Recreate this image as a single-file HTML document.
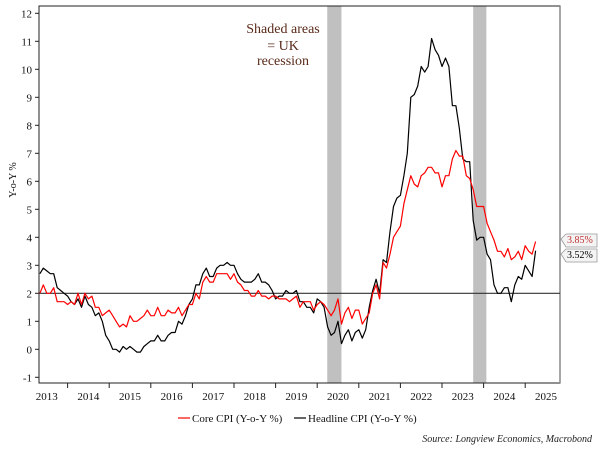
<!DOCTYPE html>
<html><head><meta charset="utf-8"><style>
body{margin:0;background:#fff;width:605px;height:454px;overflow:hidden;font-family:"Liberation Serif",serif}
svg text{font-family:"Liberation Serif",serif}
</style></head><body>
<svg width="605" height="454" id="chart">
</svg>
<script>
const years=["2013","2014","2015","2016","2017","2018","2019","2020","2021","2022","2023","2024","2025"];
const yTicks=[-1,0,1,2,3,4,5,6,7,8,9,10,11,12];
const startMonth=4; // May 2013, months since Jan 2013
const headline=[2.7,2.9,2.8,2.7,2.7,2.2,2.1,2.0,
1.9,1.7,1.6,1.8,1.5,1.9,1.6,1.5,1.2,1.3,1.0,0.5,
0.3,0.0,0.0,-0.1,0.1,0.0,0.1,0.0,-0.1,-0.1,0.1,0.2,
0.3,0.3,0.5,0.3,0.3,0.5,0.6,0.6,1.0,0.9,1.2,1.6,
1.8,2.3,2.3,2.7,2.9,2.6,2.6,2.9,3.0,3.0,3.1,3.0,
3.0,2.7,2.5,2.4,2.4,2.4,2.5,2.7,2.4,2.4,2.3,2.1,
1.8,1.9,1.9,2.1,2.0,2.0,2.1,1.7,1.7,1.5,1.5,1.3,
1.8,1.7,1.5,0.8,0.5,0.6,1.0,0.2,0.5,0.7,0.3,0.6,
0.7,0.4,0.7,1.5,2.1,2.5,2.0,3.2,3.1,4.2,5.1,5.4,
5.5,6.2,7.0,9.0,9.1,9.4,10.1,9.9,10.1,11.1,10.7,10.5,
10.1,10.4,10.1,8.7,8.7,7.9,6.8,6.7,6.7,4.6,3.9,4.0,
4.0,3.4,3.2,2.3,2.0,2.0,2.2,2.2,1.7,2.3,2.6,2.5,
3.0,2.8,2.6,3.52];
const core=[2.0,2.3,2.0,2.0,2.2,1.7,1.7,1.7,
1.6,1.7,1.6,2.0,1.6,2.0,1.8,1.9,1.5,1.5,1.2,1.3,
1.4,1.2,1.0,0.8,0.9,0.8,1.2,1.0,1.0,1.1,1.2,1.4,
1.2,1.2,1.5,1.2,1.2,1.4,1.3,1.3,1.5,1.2,1.4,1.6,
1.6,2.0,1.8,2.4,2.6,2.4,2.4,2.7,2.7,2.7,2.7,2.5,
2.7,2.4,2.3,2.1,2.1,1.9,1.9,2.1,1.9,1.9,1.8,1.9,
1.9,1.8,1.8,1.8,1.7,1.8,1.9,1.5,1.7,1.7,1.7,1.4,
1.6,1.7,1.6,1.4,1.2,1.4,1.8,0.9,1.3,1.5,1.1,1.4,
1.4,0.9,1.1,1.3,2.0,2.3,1.8,3.1,2.9,3.4,4.0,4.2,
4.4,5.2,5.7,6.2,5.9,5.8,6.2,6.3,6.5,6.5,6.3,6.3,
5.8,6.2,6.2,6.8,7.1,6.9,6.9,6.2,6.1,5.7,5.1,5.1,
5.1,4.5,4.2,3.9,3.5,3.5,3.3,3.6,3.2,3.3,3.5,3.2,
3.7,3.5,3.4,3.85];
const recessions=[[86.9,91.0],[129.0,132.8]]; // months since Jan 2013
const NS="http://www.w3.org/2000/svg";
const svg=document.getElementById("chart");
const L=39,R=560,T=6,B=383;
const x=m=>26+m*41.6/12;
const y=v=>349.3-v*28;
function el(tag,attrs,parent){const e=document.createElementNS(NS,tag);for(const k in attrs)e.setAttribute(k,attrs[k]);(parent||svg).appendChild(e);return e;}
recessions.forEach((r,i)=>{
 const e=el("rect",{x:x(r[0]),y:T,width:x(r[1])-x(r[0]),height:B-T,fill:"#c0c0c0"});
 
 
});
const frame=el("rect",{x:L,y:T,width:R-L,height:B-T,fill:"none",stroke:"#222","stroke-width":1});


el("line",{x1:R,y1:T,x2:R,y2:B,stroke:"#888","stroke-width":1.5});
const ref=el("line",{x1:L,y1:y(2),x2:R,y2:y(2),stroke:"#333","stroke-width":1.2});


yTicks.forEach(v=>{
 el("line",{x1:L-4,y1:y(v),x2:L,y2:y(v),stroke:"#222"});
 const t=el("text",{x:L-7,y:y(v)+4,"text-anchor":"end","font-size":11,fill:"#111"});
 t.textContent=v;
 
 
});
years.forEach((yr,i)=>{
 const m=i*12;
 if(i>0)el("line",{x1:x(m),y1:B,x2:x(m),y2:B+5,stroke:"#222"});
 const t=el("text",{x:x(m+6),y:B+17,"text-anchor":"middle","font-size":11,fill:"#111"});
 t.textContent=yr;
 
 
});
function line(data,color,name){
 const pts=data.map((v,i)=>x(startMonth+i).toFixed(1)+","+y(v).toFixed(1)).join(" ");
 const p=el("polyline",{points:pts,fill:"none",stroke:color,"stroke-width":1.2,"stroke-linejoin":"round"});
 
 
}
line(headline,"#000","headline-cpi-line");
line(core,"#f00","core-cpi-line");
function tag(v,color,ty,name){
 const g=el("g",{});
 
 
 el("path",{d:`M561 ${ty} l5 -5 h31 v13 h-31 z`,fill:"#f4f4f4",stroke:"#999","stroke-width":0.8},g);
 const t=el("text",{x:567,y:ty+4,"font-size":10,fill:color,"font-family":"Liberation Sans"},g);
 t.textContent=v.toFixed(2)+"%";
}
tag(core[core.length-1],"#c03030",239,"core-last-value");
tag(headline[headline.length-1],"#000",254,"headline-last-value");
</script>
<svg style="position:absolute;left:0;top:0" width="605" height="454">
<g fill="#5a2a1a" font-size="14" text-anchor="middle" font-family="Liberation Serif, serif">
<text x="283" y="33">Shaded areas</text><text x="283" y="50">= UK</text><text x="283" y="65">recession</text></g>
<text transform="translate(16,180) rotate(-90)" text-anchor="middle" font-size="10" fill="#111" font-family="Liberation Serif, serif">Y-o-Y %</text>
<g font-size="11" fill="#111" font-family="Liberation Serif, serif">
<g><line x1="178" y1="418" x2="190" y2="418" stroke="#f00" stroke-width="1.2"/><text x="192" y="422">Core CPI (Y-o-Y %)</text></g>
<g><line x1="294" y1="418" x2="306" y2="418" stroke="#000" stroke-width="1.2"/><text x="308" y="422">Headline CPI (Y-o-Y %)</text></g>
</g>
<text x="592" y="442" text-anchor="end" font-size="10" font-style="italic" fill="#222" font-family="Liberation Sans, sans-serif">Source: Longview Economics, Macrobond</text>
</svg>
</body></html>
